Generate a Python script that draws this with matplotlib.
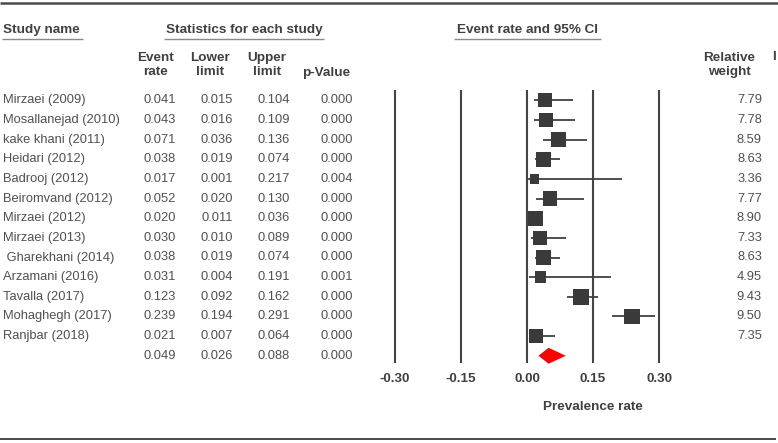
import matplotlib
matplotlib.use("Agg")
import matplotlib.pyplot as plt
from matplotlib.patches import Polygon

plt.rcParams['font.family'] = ['Liberation Sans', 'DejaVu Sans']

studies = ["Mirzaei (2009)", "Mosallanejad (2010)", "kake khani (2011)", "Heidari (2012)",
           "Badrooj (2012)", "Beiromvand (2012)", "Mirzaei (2012)", "Mirzaei (2013)",
           " Gharekhani (2014)", "Arzamani (2016)", "Tavalla (2017)", "Mohaghegh (2017)",
           "Ranjbar (2018)"]
event_rate = [0.041, 0.043, 0.071, 0.038, 0.017, 0.052, 0.020, 0.030, 0.038, 0.031, 0.123, 0.239, 0.021]
lower = [0.015, 0.016, 0.036, 0.019, 0.001, 0.020, 0.011, 0.010, 0.019, 0.004, 0.092, 0.194, 0.007]
upper = [0.104, 0.109, 0.136, 0.074, 0.217, 0.130, 0.036, 0.089, 0.074, 0.191, 0.162, 0.291, 0.064]
p_value = ["0.000", "0.000", "0.000", "0.000", "0.004", "0.000", "0.000", "0.000", "0.000", "0.001",
           "0.000", "0.000", "0.000"]
weight = [7.79, 7.78, 8.59, 8.63, 3.36, 7.77, 8.90, 7.33, 8.63, 4.95, 9.43, 9.50, 7.35]
summary = {"rate": 0.049, "lower": 0.026, "upper": 0.088, "p": "0.000"}
xticks = [-0.30, -0.15, 0.00, 0.15, 0.30]
xtick_labels = ["-0.30", "-0.15", "0.00", "0.15", "0.30"]

W, H = 778, 443
fig = plt.figure(figsize=(W / 100, H / 100), dpi=100)

ROW0, DY = 100.3, 19.65
def r(py):
    return (py - ROW0) / DY

X0, SCALE = 527.0, 440.0  # pixel of 0 and pixels per unit

ax_t = fig.add_axes([0, 0, 1, 1])
ax_t.set_xlim(0, W)
ax_t.set_ylim(r(H), r(0))
ax_t.axis("off")

ax_f = fig.add_axes([0, 0, 1, 1])
ax_f.set_xlim((0 - X0) / SCALE, (W - X0) / SCALE)
ax_f.set_ylim(r(H), r(0))
ax_f.axis("off")
ax_f.patch.set_alpha(0)

dark = "#404040"
txt = "#505050"
hdr = "#404040"
fs = 9.3
fsb = 9.7

# horizontal frame lines
ax_t.hlines([r(3)], 0, W, color="#4a4a4a", lw=1.8)
ax_t.hlines([r(439)], 0, 776, color="#4a4a4a", lw=1.4)

# headers
ax_t.text(3, r(30), "Study name", ha="left", va="center", fontsize=fsb, fontweight="bold", color=hdr)
ax_t.hlines([r(38.5)], 2, 83, color="#8a8a8a", lw=1.0)
ax_t.text(244, r(30), "Statistics for each study", ha="center", va="center", fontsize=fsb, fontweight="bold", color=hdr)
ax_t.hlines([r(38.5)], 164, 324, color="#8a8a8a", lw=1.0)
ax_t.text(527.5, r(30), "Event rate and 95% CI", ha="center", va="center", fontsize=fsb, fontweight="bold", color=hdr)
ax_t.hlines([r(38.5)], 454, 601, color="#8a8a8a", lw=1.0)

ax_t.text(155.5, r(65), "Event\nrate", ha="center", va="center", fontsize=fsb, fontweight="bold", color=hdr, linespacing=1.3)
ax_t.text(210.5, r(65), "Lower\nlimit", ha="center", va="center", fontsize=fsb, fontweight="bold", color=hdr, linespacing=1.3)
ax_t.text(267, r(65), "Upper\nlimit", ha="center", va="center", fontsize=fsb, fontweight="bold", color=hdr, linespacing=1.3)
ax_t.text(326, r(73), "p-Value", ha="center", va="center", fontsize=fsb, fontweight="bold", color=hdr)
ax_t.text(729.5, r(65), "Relative\nweight", ha="center", va="center", fontsize=fsb, fontweight="bold", color=hdr, linespacing=1.3)
ax_t.text(772, r(57), "I", ha="left", va="center", fontsize=fsb, fontweight="bold", color=hdr)

# rows
for i, name in enumerate(studies):
    ax_t.text(3, i, name, ha="left", va="center", fontsize=fs, color=txt)
    ax_t.text(176, i, f"{event_rate[i]:.3f}", ha="right", va="center", fontsize=fs, color=txt)
    ax_t.text(233, i, f"{lower[i]:.3f}", ha="right", va="center", fontsize=fs, color=txt)
    ax_t.text(290, i, f"{upper[i]:.3f}", ha="right", va="center", fontsize=fs, color=txt)
    ax_t.text(353, i, p_value[i], ha="right", va="center", fontsize=fs, color=txt)
    ax_t.text(762, i, f"{weight[i]:.2f}", ha="right", va="center", fontsize=fs, color=txt)

ns = len(studies)
ax_t.text(176, ns, f"{summary['rate']:.3f}", ha="right", va="center", fontsize=fs, color=txt)
ax_t.text(233, ns, f"{summary['lower']:.3f}", ha="right", va="center", fontsize=fs, color=txt)
ax_t.text(290, ns, f"{summary['upper']:.3f}", ha="right", va="center", fontsize=fs, color=txt)
ax_t.text(353, ns, summary["p"], ha="right", va="center", fontsize=fs, color=txt)

# forest plot vertical lines
ax_f.vlines(xticks, r(90), r(363), color="#444444", lw=1.5)
for xv, lab in zip(xticks, xtick_labels):
    ax_f.text(xv, r(379), lab, ha="center", va="center", fontsize=fsb, fontweight="bold", color=hdr)
ax_f.text(0.15, r(407), "Prevalence rate", ha="center", va="center", fontsize=fsb, fontweight="bold", color=hdr)

rows = list(range(ns))
ax_f.hlines(rows, lower, upper, color=dark, lw=1.3, zorder=3)
sizes = [(5.1 * (w ** 0.5) * 0.72) ** 2 for w in weight]
ax_f.scatter(event_rate, rows, s=sizes, marker="s", color="#3a3a3a", linewidths=0, zorder=4)

hh = 8 / DY
diamond = Polygon([(summary["lower"], ns), (summary["rate"], ns - hh),
                   (summary["upper"], ns), (summary["rate"], ns + hh)],
                  closed=True, facecolor="#ff0000", edgecolor="none", zorder=4)
ax_f.add_patch(diamond)

fig.savefig("out.png", dpi=100)
